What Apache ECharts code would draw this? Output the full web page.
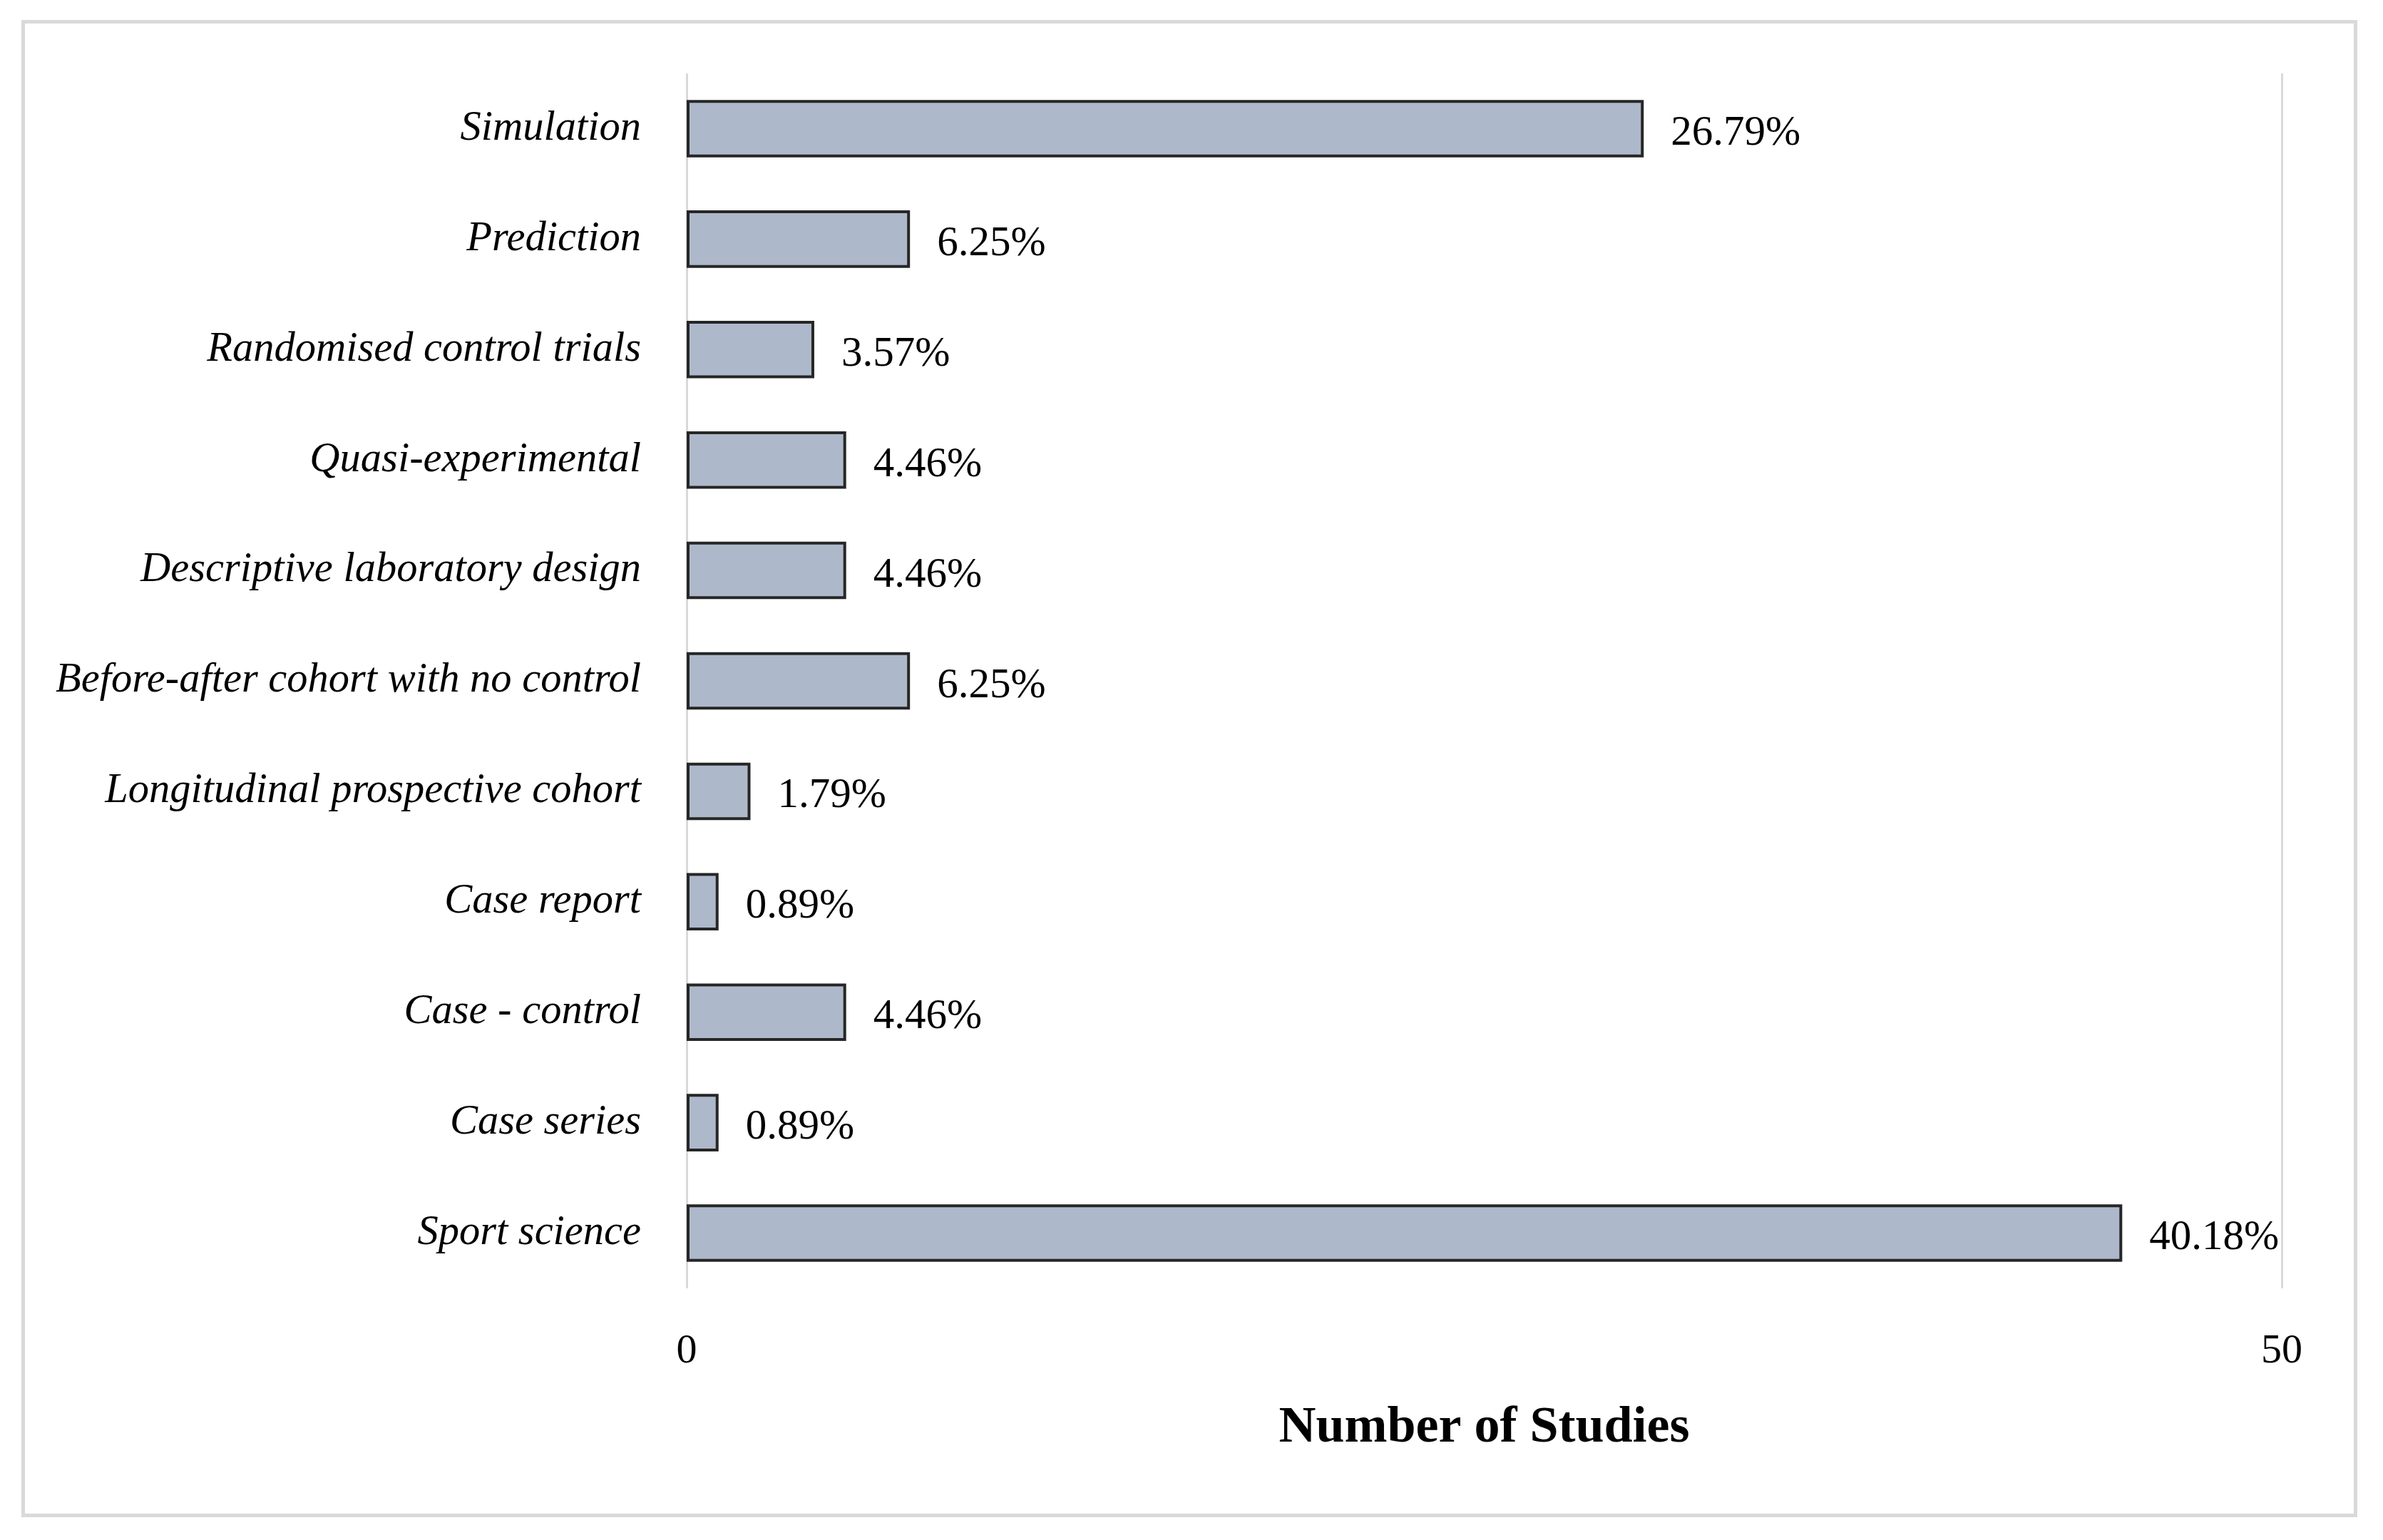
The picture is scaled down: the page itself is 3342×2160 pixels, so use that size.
<!DOCTYPE html>
<html>
<head>
<meta charset="utf-8">
<script src="https://cdn.jsdelivr.net/npm/echarts@6/dist/echarts.min.js"></script>
<style>
html,body{margin:0;padding:0;background:#fff;}
#chart{width:3342px;height:2160px;}
</style>
</head>
<body>
<div id="chart"></div>
<script>
const categories = [
  "Simulation",
  "Prediction",
  "Randomised control trials",
  "Quasi-experimental",
  "Descriptive laboratory design",
  "Before-after cohort with no control",
  "Longitudinal prospective cohort",
  "Case report",
  "Case - control",
  "Case series",
  "Sport science"
];
const studyCounts = [30, 7, 4, 5, 5, 7, 2, 1, 5, 1, 45];
const percentLabels = ["26.79%", "6.25%", "3.57%", "4.46%", "4.46%", "6.25%", "1.79%", "0.89%", "4.46%", "0.89%", "40.18%"];
const axisMin = 0;
const axisMax = 50;
const axisInterval = 50;
const axisTitle = "Number of Studies";

const chart = echarts.init(document.getElementById('chart'), null, {renderer: 'canvas'});
const serif = '"Liberation Serif", "DejaVu Serif", serif';
chart.setOption({
  animation: false,
  backgroundColor: '#ffffff',
  graphic: [{
    type: 'rect',
    left: 30, top: 28,
    shape: {width: 3271, height: 2095},
    style: {fill: 'none', stroke: '#d9d9d9', lineWidth: 5},
    z: -1
  }],
  grid: {left: 963, right: 142, top: 103, bottom: 353, containLabel: false},
  xAxis: {
    type: 'value',
    min: axisMin, max: axisMax, interval: axisInterval,
    axisLine: {show: false},
    axisTick: {show: false},
    splitLine: {show: true, lineStyle: {color: '#d9d9d9', width: 3}},
    axisLabel: {fontFamily: serif, fontSize: 58, color: '#000', margin: 60},
    name: axisTitle,
    nameLocation: 'middle',
    nameGap: 160,
    nameTextStyle: {fontFamily: serif, fontSize: 72, fontWeight: 'bold', color: '#000'}
  },
  yAxis: {
    type: 'category',
    data: categories,
    inverse: true,
    axisLine: {show: false},
    axisTick: {show: false},
    splitLine: {show: false},
    axisLabel: {fontFamily: serif, fontSize: 58.5, fontStyle: 'italic', color: '#000', margin: 64}
  },
  series: [{
    type: 'bar',
    data: studyCounts,
    barCategoryGap: '48%',
    itemStyle: {color: '#adb9ca', borderColor: '#262626', borderWidth: 4},
    label: {
      show: true,
      position: 'right',
      distance: 38,
      fontFamily: serif,
      fontSize: 59,
      color: '#000',
      offset: [0, 7],
      formatter: p => percentLabels[p.dataIndex]
    }
  }]
});
</script>
</body>
</html>
